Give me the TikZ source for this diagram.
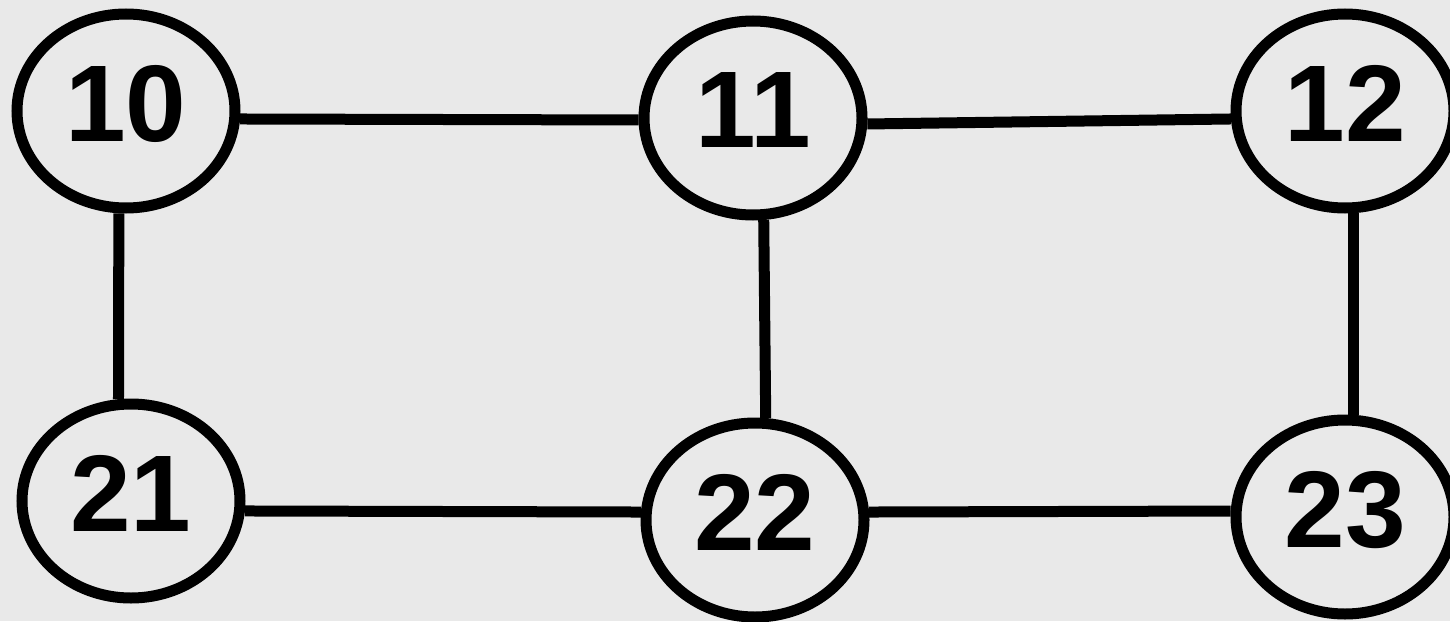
\documentclass[tikz,border=0pt]{standalone}
\usepackage{fontspec}
\setmainfont{Liberation Sans}
\usepackage{tikz}
\usetikzlibrary{shapes.geometric}
\definecolor{paperbg}{RGB}{233,233,233}

\begin{document}
\begin{tikzpicture}[x=0.5pt, y=-0.5pt, line width=5.5pt,
  vert/.style={draw, ellipse, inner sep=0pt, minimum width=109pt, minimum height=97pt,
    text depth=8pt, font=\fontsize{54.5}{60}\selectfont\bfseries}]
\fill[paperbg] (0,0) rectangle (1450,621);
\useasboundingbox (0,0) rectangle (1450,621);
% top row
\node[vert] (n10) at (126,111) {10};
\node[vert] (n11) at (753,118) {11};
\node[vert] (n12) at (1345,111) {12};
% bottom row
\node[vert] (n21) at (131,501) {21};
\node[vert] (n22) at (755,520) {22};
\node[vert] (n23) at (1345,517) {23};
% edges
\draw (n10.-4) -- (n11.181);
\draw (n11.-3.5) -- (n12.184.5);
\draw (n10.266) -- (n21.97);
\draw (n11.-84) -- (n22.84);
\draw (n12.-85) -- (n23.85);
\draw (n21.-5.5) -- (n22.176);
\draw (n22.4) -- (n23.177);
\end{tikzpicture}
\end{document}
